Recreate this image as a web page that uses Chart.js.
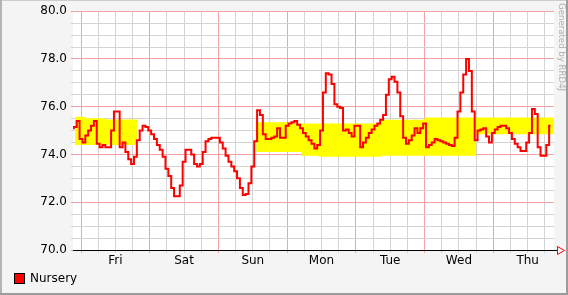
<!DOCTYPE html>
<html>
<head>
<meta charset="utf-8">
<script src="https://cdn.jsdelivr.net/npm/chart.js@4.4.1/dist/chart.umd.min.js"></script>
<style>
body { margin: 0; background: #f4f4f4; }
canvas { display: block; }
</style>
</head>
<body>
<canvas id="myChart" width="568" height="295"></canvas>
<script>
// hours are counted from Friday 00:00
var dayNames = ['Fri', 'Sat', 'Sun', 'Mon', 'Tue', 'Wed', 'Thu'];
var firstHour = -3;
var nursery = [
    75.1, 75.15, 75.4,
    74.65, 74.5, 74.8, 75.0, 75.2, 75.4, 74.45, 74.3, 74.4, 74.3,
    74.3, 75.0, 75.8, 75.8, 74.3, 74.5, 74.1, 73.8, 73.6, 73.9,
    74.6, 75.0, 75.2, 75.15, 75.0, 74.85, 74.65, 74.4, 74.2, 73.9,
    73.4, 73.1, 72.6, 72.25, 72.25, 72.7, 73.7, 74.2, 74.2, 74.0,
    73.6, 73.5, 73.6, 74.1, 74.55, 74.65, 74.7, 74.7, 74.7, 74.5,
    74.25, 73.95, 73.7, 73.5, 73.3, 73.0, 72.6, 72.3, 72.35, 72.8,
    73.5, 74.55, 75.85, 75.65, 74.85, 74.65, 74.65, 74.7, 74.75, 75.1,
    74.7, 74.7, 75.2, 75.3, 75.35, 75.4, 75.25, 75.1, 74.9, 74.75,
    74.6, 74.45, 74.25, 74.4, 75.0, 76.6, 77.4, 77.35, 76.95, 76.1,
    76.0, 75.95, 75.0, 75.05, 74.9, 74.75, 75.2, 75.2, 74.3, 74.5,
    74.7, 74.9, 75.05, 75.2, 75.3, 75.45, 75.65, 76.5, 77.15, 77.25,
    77.05, 76.6, 75.6, 74.7, 74.45, 74.6, 74.8, 75.1, 74.9, 75.1,
    75.3, 74.3, 74.4, 74.5, 74.65, 74.6, 74.55, 74.5, 74.45, 74.4,
    74.35, 74.7, 75.8, 76.6, 77.35, 78.0, 77.5, 75.8, 74.6, 75.0,
    75.05, 75.1, 74.75, 74.5, 74.9, 75.05, 75.15, 75.2, 75.2, 75.1,
    74.9, 74.65, 74.45, 74.3, 74.15, 74.15, 74.5, 74.9, 75.9, 75.7,
    74.3, 73.95, 73.95, 74.4, 75.2
];
// yellow band (steps)
var bandHours = [-2.1, 1.75, 8.4, 12.9, 19.6, 40, 61.2, 72, 77, 83, 90, 105, 120, 138, 160, 168.7];
var bandLow  = [74.45, 74.4, 74.4, 74.4, 74.4, null, 74.15, 74.1, 74.1, 73.95, 73.9, 73.9, 73.95, 73.95, 74.85, 74.85];
var bandHigh = [75.52, 75.58, 75.52, 75.46, 75.46, null, 75.35, 75.35, 75.3, 75.3, 75.3, 75.3, 75.45, 75.55, 75.55, 75.55];

var RED_GRID = '#f2a4a4';
var GREY_GRID = '#d4d4d4';
var FONT = 'DejaVu Sans';

var nurseryPts = nursery.map(function (v, i) { return {x: firstHour + i, y: v}; });
var lowPts = bandHours.map(function (h, i) { return {x: h, y: bandLow[i]}; });
var highPts = bandHours.map(function (h, i) { return {x: h, y: bandHigh[i]}; });

var rrdLook = {
    id: 'rrdLook',
    beforeDraw: function (chart) {
        var c = chart.ctx, a = chart.chartArea;
        c.save();
        c.fillStyle = '#f4f4f4';
        c.fillRect(0, 0, chart.width, chart.height);
        c.fillStyle = '#ffffff';
        c.fillRect(a.left, a.top, a.right - a.left, a.bottom - a.top);
        c.restore();
    },
    afterDraw: function (chart) {
        var c = chart.ctx, a = chart.chartArea;
        c.save();
        // frame
        c.fillStyle = '#cccccc';
        c.fillRect(0, 0, chart.width, 1);
        c.fillStyle = '#b4b4b4';
        c.fillRect(0, 0, 2, chart.height);
        c.fillStyle = '#9c9c9c';
        c.fillRect(0, chart.height - 2, chart.width, 2);
        c.fillRect(chart.width - 2, 0, 2, chart.height);
        // axis arrow
        c.strokeStyle = '#000';
        c.lineWidth = 1;
        c.beginPath();
        c.moveTo(a.right, a.bottom + 0.5);
        c.lineTo(a.right + 4, a.bottom + 0.5);
        c.stroke();
        c.strokeStyle = '#ff0000';
        c.beginPath();
        c.moveTo(a.right + 3.5, a.bottom - 3.5);
        c.lineTo(a.right + 10.5, a.bottom + 0.5);
        c.lineTo(a.right + 3.5, a.bottom + 4.5);
        c.closePath();
        c.stroke();
        // signature
        c.fillStyle = '#b0b0b0';
        c.font = '8.6px "' + FONT + '"';
        c.textBaseline = 'middle';
        c.translate(561, 3);
        c.rotate(Math.PI / 2);
        c.fillText('Generated by RRD4J', 0, 0);
        c.restore();
        // legend
        c.save();
        c.fillStyle = '#ff0000';
        c.fillRect(14, 273, 10, 10);
        c.strokeStyle = '#000';
        c.lineWidth = 1;
        c.strokeRect(14.5, 273.5, 10, 10);
        c.fillStyle = '#000';
        c.font = '12px "' + FONT + '"';
        c.textBaseline = 'middle';
        c.fillText(chart.data.datasets[0].label, 30, 279);
        c.restore();
    }
};

var myChart = new Chart(document.getElementById('myChart').getContext('2d'), {
    type: 'line',
    data: {
        datasets: [{
            label: 'Nursery',
            data: nurseryPts,
            borderColor: '#ff0000',
            borderWidth: 2,
            pointRadius: 0,
            stepped: 'middle',
            fill: false
        }, {
            label: 'low',
            data: lowPts,
            borderWidth: 0,
            borderColor: 'rgba(0,0,0,0)',
            pointRadius: 0,
            stepped: 'after',
            fill: false,
            clip: {left: 0, top: 0, right: 9, bottom: 0}
        }, {
            label: 'high',
            data: highPts,
            borderWidth: 0,
            borderColor: 'rgba(0,0,0,0)',
            backgroundColor: '#ffff00',
            pointRadius: 0,
            stepped: 'after',
            fill: '-1',
            clip: {left: 0, top: 0, right: 9, bottom: 0}
        }]
    },
    options: {
        responsive: false,
        animation: false,
        devicePixelRatio: 1,
        layout: {padding: {left: 0, right: 14, top: 10, bottom: 25}},
        plugins: {
            legend: {display: false},
            tooltip: {enabled: false}
        },
        scales: {
            x: {
                type: 'linear',
                min: -2.8,
                max: 165.2,
                afterBuildTicks: function (scale) {
                    var t = [];
                    for (var h = 0; h <= 165; h += 6) t.push({value: h});
                    scale.ticks = t;
                },
                afterFit: function (scale) { scale.height = 20; },
                ticks: {
                    autoSkip: false,
                    maxRotation: 0,
                    padding: 1,
                    color: '#000',
                    font: {family: FONT, size: 12},
                    callback: function (v) {
                        return (v % 24 === 12) ? dayNames[Math.floor(v / 24)] : '';
                    }
                },
                grid: {
                    color: function (ctx) {
                        return (ctx.tick && ctx.tick.value % 24 === 0) ? RED_GRID : GREY_GRID;
                    },
                    tickLength: 3
                },
                border: {display: true, color: '#000', width: 1}
            },
            y: {
                min: 70,
                max: 80,
                afterFit: function (scale) { scale.width = 73; },
                ticks: {
                    stepSize: 0.5,
                    autoSkip: false,
                    padding: 4,
                    color: '#000',
                    font: {family: FONT, size: 12},
                    callback: function (v) {
                        return Math.abs(v % 2) < 1e-6 ? v.toFixed(1) : '';
                    }
                },
                grid: {
                    color: function (ctx) {
                        return (ctx.tick && Math.abs(ctx.tick.value % 2) < 1e-6) ? RED_GRID : GREY_GRID;
                    },
                    tickLength: 2
                },
                border: {display: false}
            }
        }
    },
    plugins: [rrdLook]
});
</script>
</body>
</html>
